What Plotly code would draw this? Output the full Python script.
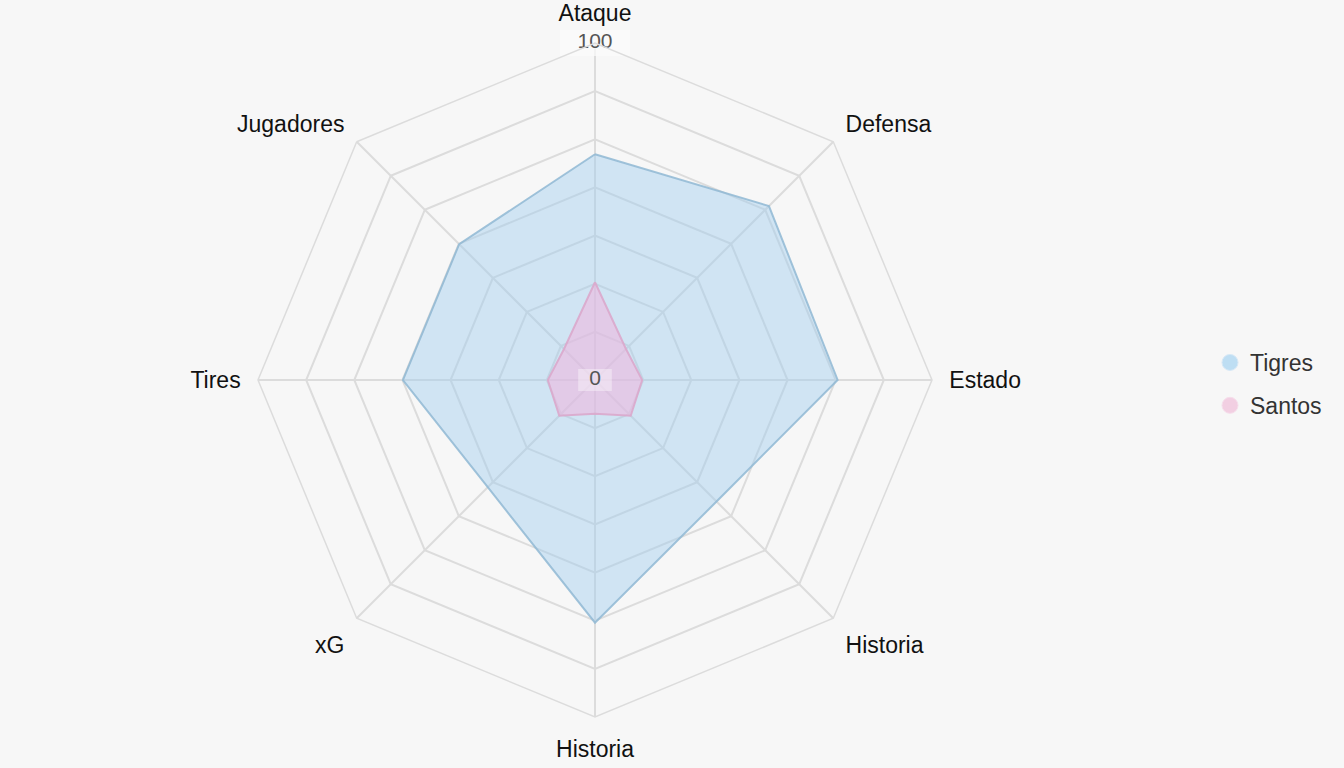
import plotly.graph_objects as go

# ---- data ----
axis_ids = ["Ataque", "Defensa", "Estado", "Historia_a", "Historia_b", "xG", "Tires", "Jugadores"]
axis_labels = ["Ataque", "Defensa", "Estado", "Historia", "Historia", "xG", "Tires", "Jugadores"]
tigres = [67, 73, 72, 51, 72, 45, 57, 57]
santos = [29, 13, 14, 15, 10, 15, 14, 13]
radial_ticks = [0, 14.29, 28.57, 42.86, 57.14, 71.43, 85.71, 100]
radial_label_values = [0, 100]
radial_label_text = ["0", "100"]

BG = "#f7f7f7"
GRID = "#dcdcdc"

fig = go.Figure()

fig.add_trace(go.Scatterpolar(
    r=tigres + [tigres[0]], theta=axis_ids + [axis_ids[0]],
    mode="lines", fill="toself",
    fillcolor="rgba(160,205,238,0.45)",
    line=dict(color="rgba(145,185,212,0.85)", width=2),
    name="Tigres", showlegend=False, hoverinfo="skip",
))
fig.add_trace(go.Scatterpolar(
    r=santos + [santos[0]], theta=axis_ids + [axis_ids[0]],
    mode="lines", fill="toself",
    fillcolor="rgba(240,180,220,0.55)",
    line=dict(color="rgba(218,168,204,0.9)", width=2),
    name="Santos", showlegend=False, hoverinfo="skip",
))

# radial value labels with a light background box (line-ew marker drawn thick)
fig.add_trace(go.Scatterpolar(
    r=[max(v, 0.01) for v in radial_label_values],
    theta=[axis_ids[0]] * len(radial_label_values),
    mode="markers+text", text=radial_label_text,
    textposition="middle center",
    textfont=dict(size=21, color="#555555", family="Liberation Sans, Arial"),
    marker=dict(symbol="line-ew", size=[24, 50],
                line=dict(width=[22, 26],
                          color=["rgba(248,240,248,0.75)", "rgba(252,252,252,1)"])),
    showlegend=False, hoverinfo="skip", cliponaxis=False,
))

# legend entries (circles)
fig.add_trace(go.Scatterpolar(
    r=[None], theta=[None], mode="markers", name="Tigres", legendgroup="t",
    marker=dict(symbol="circle", size=20, color="rgb(190,222,243)",
                line=dict(color="rgb(215,232,246)", width=1)),
))
fig.add_trace(go.Scatterpolar(
    r=[None], theta=[None], mode="markers", name="Santos", legendgroup="s",
    marker=dict(symbol="circle", size=20, color="rgb(242,207,226)",
                line=dict(color="rgb(246,222,235)", width=1)),
))

cx, cy, R = 595, 380, 337
W, H = 1344, 768

fig.update_layout(
    width=W, height=H,
    margin=dict(l=0, r=0, t=0, b=0),
    paper_bgcolor=BG,
    font=dict(family="Liberation Sans, Arial", color="#111111"),
    polar=dict(
        domain=dict(x=[(cx - R) / W, (cx + R) / W],
                    y=[(H - cy - R) / H, (H - cy + R) / H]),
        bgcolor=BG,
        gridshape="linear",
        angularaxis=dict(
            direction="clockwise", rotation=90,
            type="category",
            categoryorder="array", categoryarray=axis_ids,
            tickmode="array", tickvals=axis_ids, ticktext=axis_labels,
            tickfont=dict(size=23, color="#111111"),
            showline=True, linecolor=GRID, linewidth=1.5,
            gridcolor=GRID, gridwidth=1.5,
            ticks="outside", ticklen=12, tickcolor="rgba(0,0,0,0)",
        ),
        radialaxis=dict(
            range=[0, 100],
            tickmode="array", tickvals=radial_ticks,
            showticklabels=False, ticks="",
            showline=False,
            gridcolor=GRID, gridwidth=1.5,
        ),
    ),
    legend=dict(
        x=1210 / W, y=0.5, xanchor="left", yanchor="middle",
        font=dict(size=23, color="#333333"),
        bgcolor="rgba(0,0,0,0)",
        tracegroupgap=10,
        itemsizing="trace",
    ),
)

fig.write_html("out.html")
